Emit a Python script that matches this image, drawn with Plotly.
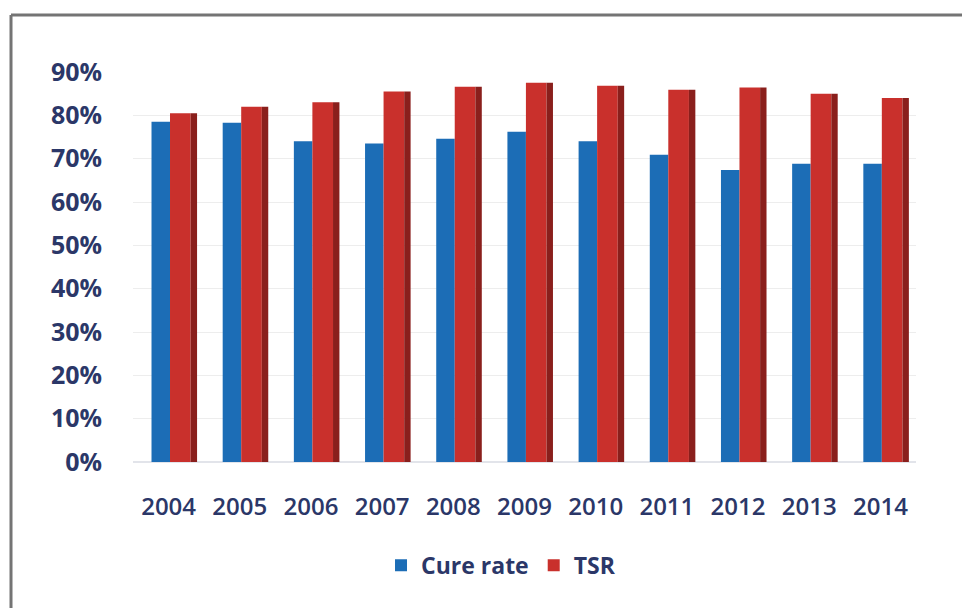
import plotly.graph_objects as go

years = ["2004", "2005", "2006", "2007", "2008", "2009",
         "2010", "2011", "2012", "2013", "2014"]
cure_rate = [78.5, 78.3, 74.0, 73.5, 74.6, 76.2, 74.0, 70.9, 67.4, 68.8, 68.8]
tsr = [80.5, 82.0, 83.0, 85.5, 86.6, 87.5, 86.8, 85.9, 86.4, 85.0, 84.0]

y_ticks = [0, 10, 20, 30, 40, 50, 60, 70, 80, 90]
y_tick_text = [f"{v}%" for v in y_ticks]

BLUE = "#1C6DB6"
RED = "#C9302C"
RED_SIDE = "#8A1F1C"
TEXT = "#2B3768"
FONT = "'Open Sans', Lato, sans-serif"

# page body has an 8px margin, so the figure is a bit smaller than the window
W, H = 962, 600
L, R, T, B = 125, 54, 64, 146
PW, PH = W - L - R, H - T - B

fig = go.Figure()

# blue front
fig.add_trace(go.Bar(
    x=years, y=cure_rate, name="Cure rate",
    marker=dict(color=BLUE, line=dict(width=0)),
    width=0.26, offset=-0.24,
    hoverinfo="y",
))
# red front
fig.add_trace(go.Bar(
    x=years, y=tsr, name="TSR",
    marker=dict(color=RED, line=dict(width=0)),
    width=0.29, offset=0.02,
    hoverinfo="y",
))
# red side face (fake 3D)
fig.add_trace(go.Bar(
    x=years, y=tsr, name="TSR side",
    marker=dict(color=RED_SIDE, line=dict(width=0)),
    width=0.09, offset=0.31,
    showlegend=False, hoverinfo="skip",
))

# outer frame: only left and top edges are visible in the picture
fx0 = (3 - L) / PW
fy1 = (H - 7 - B) / PH
frame = dict(color="#747474", width=3)
fig.add_shape(type="line", xref="paper", yref="paper",
              x0=fx0, x1=(W + 30 - L) / PW, y0=fy1, y1=fy1, line=frame)
fig.add_shape(type="line", xref="paper", yref="paper",
              x0=fx0, x1=fx0, y0=-(B + 30) / PH, y1=fy1, line=frame)

fig.update_layout(
    width=W, height=H,
    barmode="overlay",
    paper_bgcolor="white",
    plot_bgcolor="white",
    margin=dict(l=L, r=R, t=T, b=B),
    font=dict(family=FONT, color=TEXT),
    xaxis=dict(
        type="category",
        tickfont=dict(size=24, color=TEXT, weight=600),
        showgrid=False, zeroline=False, showline=False,
        ticks="", ticklabelstandoff=28,
    ),
    yaxis=dict(
        range=[0, 90],
        tickvals=y_ticks, ticktext=y_tick_text,
        tickfont=dict(size=25, color=TEXT, weight="bold"),
        showgrid=True, gridcolor="#EDEDED", gridwidth=1,
        zeroline=True, zerolinecolor="#E2E4EA", zerolinewidth=2,
        showline=False, ticks="", ticklabelstandoff=30,
    ),
    legend=dict(
        orientation="h", x=0.47, xanchor="center",
        y=-0.265, yanchor="middle",
        font=dict(size=23, color=TEXT, weight="bold"),
        itemwidth=30, traceorder="normal",
    ),
    showlegend=True,
)

fig.write_html("out.html")
